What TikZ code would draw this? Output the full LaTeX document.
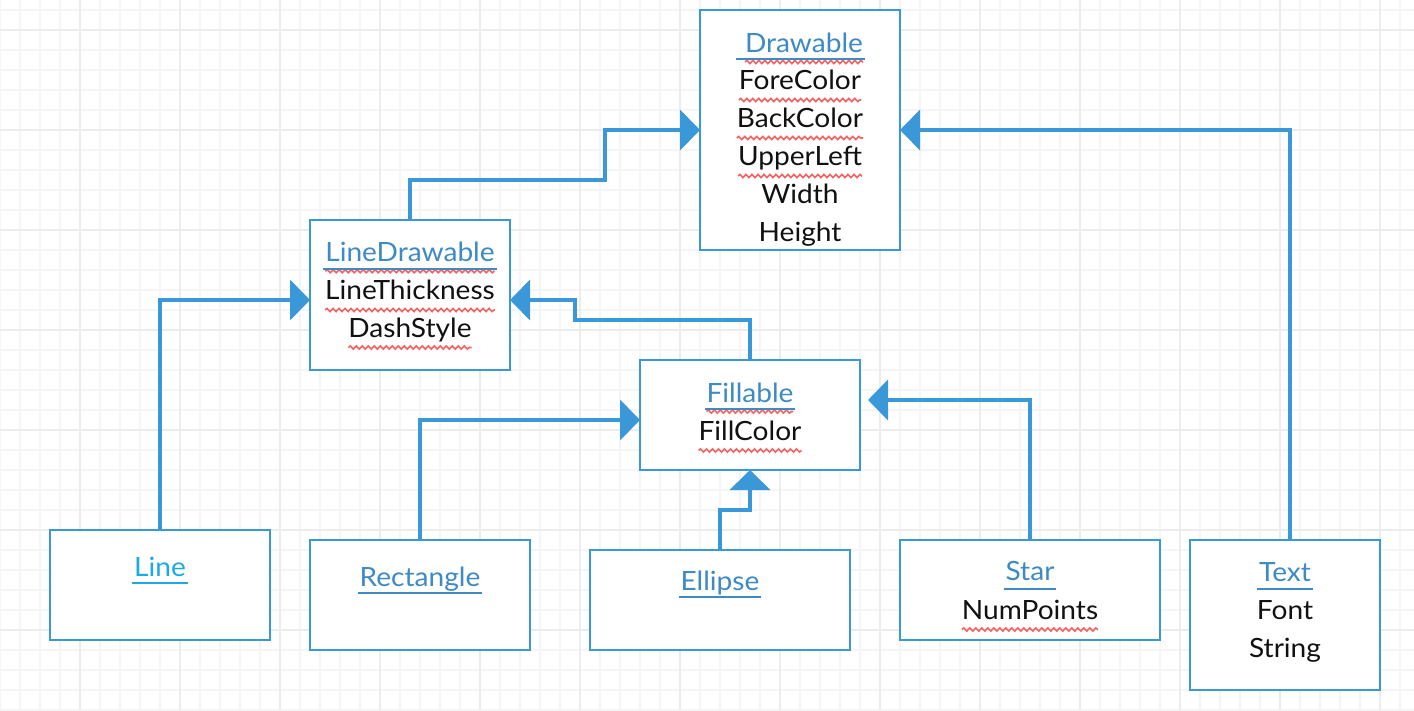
\documentclass[tikz,border=0pt]{standalone}
\usepackage{fontspec}
\setmainfont{Lato}
\usetikzlibrary{arrows.meta,decorations.pathmorphing}
\definecolor{boxblue}{RGB}{58,152,216}
\definecolor{titleblue}{RGB}{62,138,196}
\definecolor{lineblue}{RGB}{28,170,230}
\definecolor{gridlight}{RGB}{245,245,245}
\definecolor{griddark}{RGB}{236,236,236}
\definecolor{spellred}{RGB}{246,98,98}
\definecolor{ink}{RGB}{17,17,17}
\newcommand{\sx}[1]{\scalebox{1.06}[1]{#1}}
\begin{document}
\begin{tikzpicture}[x=1pt,y=-1pt,
 box/.style={draw=boxblue, line width=2pt, fill=white, rectangle, inner sep=0pt, outer sep=0pt},
 conn/.style={draw=boxblue, line width=4pt, -{Triangle[length=20pt,width=40pt]}},
 ttl/.style={text=titleblue, anchor=base, inner sep=0pt, outer sep=0pt, font=\fontsize{26.5}{30}\selectfont},
 item/.style={text=ink, anchor=base, inner sep=0pt, outer sep=0pt, font=\fontsize{26.5}{30}\selectfont},
 uline/.style={draw=titleblue, line width=2pt},
 wavy/.style={draw=spellred, line width=1.6pt, decorate, decoration={snake, segment length=6pt, amplitude=1.6pt}},
 gl/.style={draw=gridlight, line width=2pt},
 gd/.style={draw=griddark, line width=2pt},
]
\useasboundingbox (0,0) rectangle (1414,710);
\fill[white] (0,0) rectangle (1414,710);
% grid
\foreach \x in {0,20,...,1400} {\draw[gl] (\x,0) -- (\x,710);}
\foreach \y in {10,30,...,710} {\draw[gl] (0,\y) -- (1414,\y);}
\foreach \x in {80,180,...,1380} {\draw[gd] (\x,0) -- (\x,710);}
\foreach \y in {30,130,...,630} {\draw[gd] (0,\y) -- (1414,\y);}

% boxes
\node[box, minimum width=200pt, minimum height=240pt] (drawable) at (800,130) {};
\node[box, minimum width=200pt, minimum height=150pt] (linedr) at (410,295) {};
\node[box, minimum width=220pt, minimum height=110pt] (fillable) at (750,415) {};
\node[box, minimum width=220pt, minimum height=110pt] (line) at (160,585) {};
\node[box, minimum width=220pt, minimum height=110pt] (rect) at (420,595) {};
\node[box, minimum width=260pt, minimum height=100pt] (ellipse) at (720,600) {};
\node[box, minimum width=260pt, minimum height=100pt] (star) at (1030,590) {};
\node[box, minimum width=190pt, minimum height=150pt] (textbox) at (1285,615) {};

% connectors
\draw[conn] (linedr.north) |- (605,180) |- (drawable.west);
\draw[conn] ([xshift=5pt]textbox.north) |- (drawable.east);
\draw[conn] (line.north) |- ([yshift=-5pt]linedr.west);
\draw[conn] (fillable.north) |- (575,320) |- ([yshift=-5pt]linedr.east);
\draw[conn] (rect.north) |- ([yshift=-5pt]fillable.west);
\draw[conn] (ellipse.north) |- (750,510) -- (fillable.south);
\draw[conn] (star.north) |- ([xshift=8pt,yshift=15pt]fillable.east);

% Drawable
\node[ttl] (tdraw) at (804,52) {\sx{Drawable}};
\node[item] (i1) at (800,89.5) {\sx{ForeColor}};
\node[item] (i2) at (800,127.5) {\sx{BackColor}};
\node[item] (i3) at (800,165.5) {\sx{UpperLeft}};
\node[item] (i4) at (800,203) {\sx{Width}};
\node[item] (i5) at (800,241) {\sx{Height}};
\draw[wavy] ([yshift=-10pt]tdraw.base west) -- ([yshift=-10pt]tdraw.base east);
\draw[uline] ([xshift=-9pt,yshift=-7pt]tdraw.base west) -- ([xshift=2pt,yshift=-7pt]tdraw.base east);
\foreach \n in {i1,i2,i3} {\draw[wavy] ([yshift=-10.5pt]\n.base west) -- ([yshift=-10.5pt]\n.base east);}

% LineDrawable
\node[ttl] (tld) at (410,261.7) {\sx{LineDrawable}};
\node[item] (l1) at (410,299.5) {\sx{LineThickness}};
\node[item] (l2) at (410,337) {\sx{DashStyle}};
\draw[wavy] ([yshift=-9.5pt]tld.base west) -- ([yshift=-9.5pt]tld.base east);
\draw[uline] ([xshift=-2pt,yshift=-7pt]tld.base west) -- ([xshift=2pt,yshift=-7pt]tld.base east);
\foreach \n in {l1,l2} {\draw[wavy] ([yshift=-10.5pt]\n.base west) -- ([yshift=-10.5pt]\n.base east);}

% Fillable
\node[ttl] (tfill) at (750,402) {\sx{Fillable}};
\node[item] (f1) at (750,440) {\sx{FillColor}};
\draw[wavy] ([yshift=-9.5pt]tfill.base west) -- ([yshift=-9.5pt]tfill.base east);
\draw[uline] ([xshift=-2pt,yshift=-7pt]tfill.base west) -- ([xshift=2pt,yshift=-7pt]tfill.base east);
\draw[wavy] ([yshift=-10.5pt]f1.base west) -- ([yshift=-10.5pt]f1.base east);

% Line
\node[ttl, text=lineblue] (tline) at (160,576) {\sx{Line}};
\draw[uline, draw=lineblue] ([xshift=-2pt,yshift=-6.5pt]tline.base west) -- ([xshift=2pt,yshift=-6.5pt]tline.base east);

% Rectangle
\node[ttl] (trect) at (420,586) {\sx{Rectangle}};
\draw[uline] ([xshift=-2pt,yshift=-7pt]trect.base west) -- ([xshift=2pt,yshift=-7pt]trect.base east);

% Ellipse
\node[ttl] (tell) at (720,590) {\sx{Ellipse}};
\draw[uline] ([xshift=-2pt,yshift=-7pt]tell.base west) -- ([xshift=2pt,yshift=-7pt]tell.base east);

% Star
\node[ttl] (tstar) at (1030,580.7) {\sx{Star}};
\node[item] (s1) at (1030,619) {\sx{NumPoints}};
\draw[uline] ([xshift=-2pt,yshift=-8pt]tstar.base west) -- ([xshift=2pt,yshift=-8pt]tstar.base east);
\draw[wavy] ([yshift=-10.5pt]s1.base west) -- ([yshift=-10.5pt]s1.base east);

% Text
\node[ttl] (ttext) at (1285,581.7) {\sx{Text}};
\node[item] (x1) at (1285,619.3) {\sx{Font}};
\node[item] (x2) at (1285,657.7) {\sx{String}};
\draw[uline] ([xshift=-2pt,yshift=-7.5pt]ttext.base west) -- ([xshift=2pt,yshift=-7.5pt]ttext.base east);
\end{tikzpicture}
\end{document}
